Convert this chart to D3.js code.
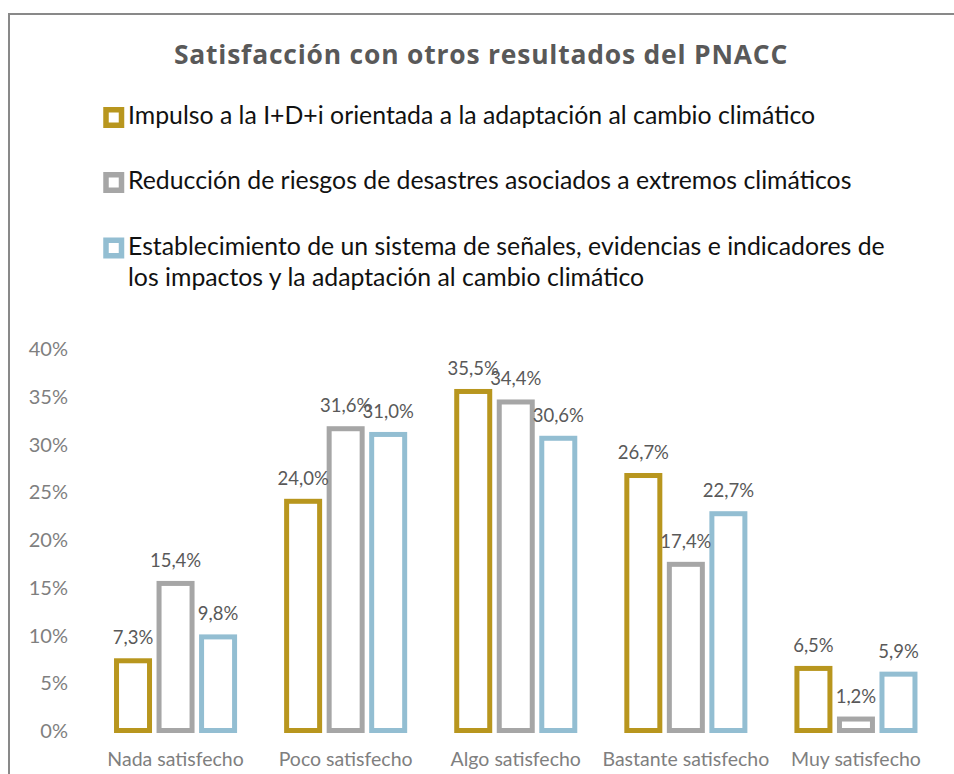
<!DOCTYPE html>
<html>
<head>
<meta charset="utf-8">
<script src="https://cdn.jsdelivr.net/npm/d3@7"></script>
<style>
  html, body { margin: 0; padding: 0; background: #fff; }
  svg { display: block; }
</style>
</head>
<body>
<svg id="chart" width="954" height="774"></svg>
<script>
// Survey answers (share of respondents, %)
const categories = ["Nada satisfecho", "Poco satisfecho", "Algo satisfecho", "Bastante satisfecho", "Muy satisfecho"];
const seriesNames = [
  "Impulso a la I+D+i orientada a la adaptación al cambio climático",
  "Reducción de riesgos de desastres asociados a extremos climáticos",
  "Establecimiento de un sistema de señales, evidencias e indicadores de los impactos y la adaptación al cambio climático"
];
const impulsoValues = [7.3, 24.0, 35.5, 26.7, 6.5];
const reduccionValues = [15.4, 31.6, 34.4, 17.4, 1.2];
const establecimientoValues = [9.8, 31.0, 30.6, 22.7, 5.9];
const yTickValues = [0, 5, 10, 15, 20, 25, 30, 35, 40];
const titleText = "Satisfacción con otros resultados del PNACC";

const seriesValues = [impulsoValues, reduccionValues, establecimientoValues];
const colors = ["#B8961E", "#A6A6A6", "#93BED2"];
// legend entries, with the long one split over two lines
const legendLines = [
  ["Impulso a la I+D+i orientada a la adaptación al cambio climático"],
  ["Reducción de riesgos de desastres asociados a extremos climáticos"],
  ["Establecimiento de un sistema de señales, evidencias e indicadores de",
   "los impactos y la adaptación al cambio climático"]
];

const svg = d3.select("#chart");
const bodyFont = "Lato, 'Open Sans', sans-serif";

// shrink/grow a text selection so its widest line spans the given width
function fitWidth(sel, target) {
  let widest = 0;
  sel.each(function () { widest = Math.max(widest, this.getComputedTextLength()); });
  const fs = parseFloat(sel.attr("font-size"));
  sel.attr("font-size", fs * target / widest);
}

// frame
svg.append("path")
  .attr("d", "M9,774 V14 H954")
  .attr("fill", "none")
  .attr("stroke", "#898989")
  .attr("stroke-width", 2);

// title
const title = svg.append("text")
  .attr("x", 481).attr("y", 64)
  .attr("text-anchor", "middle")
  .attr("font-family", "'Open Sans', sans-serif")
  .attr("font-weight", "bold")
  .attr("font-size", 24)
  .attr("letter-spacing", 0.8)
  .attr("fill", "#595959")
  .text(titleText);
fitWidth(title, 618);

// legend
const legendTop = [117.5, 182.5, 248];
const legend = svg.append("g");
const legendTexts = [];
legendLines.forEach((lines, i) => {
  legend.append("rect")
    .attr("x", 106).attr("y", legendTop[i] - 7.75)
    .attr("width", 15.5).attr("height", 15.5)
    .attr("fill", "#fff")
    .attr("stroke", colors[i])
    .attr("stroke-width", 5.5);
  lines.forEach((ln, j) => {
    legendTexts.push(legend.append("text")
      .attr("x", 128)
      .attr("y", legendTop[i] + 6.8 + j * 31.6)
      .attr("font-family", bodyFont)
      .attr("font-size", 21)
      .attr("fill", "#111")
      .text(ln).node());
  });
});
fitWidth(d3.selectAll(legendTexts), 757);

// scales
const y = d3.scaleLinear().domain([0, 40]).range([730.5, 348.5]);
const x0 = d3.scaleBand().domain(categories).range([90.5, 941]).padding(0);
const groupWidth = x0.bandwidth() * 0.75;
const x1 = d3.scaleBand().domain(d3.range(seriesNames.length)).range([0, groupWidth]).padding(0);
const barWidth = 33;

// y axis labels (no axis line, no gridlines)
const yAxis = d3.axisLeft(y).tickValues(yTickValues).tickSize(0).tickPadding(0)
  .tickFormat(d => d + "%");
svg.append("g")
  .attr("transform", "translate(68,0)")
  .call(yAxis)
  .call(g => g.select(".domain").remove())
  .call(g => g.selectAll("text")
    .attr("font-family", bodyFont)
    .attr("font-size", 20)
    .attr("fill", "#7F7F7F")
    .attr("dy", "0.35em"));

// category labels
const xAxis = d3.axisBottom(x0).tickSize(0).tickPadding(0);
svg.append("g")
  .attr("transform", "translate(0,766)")
  .call(xAxis)
  .call(g => g.select(".domain").remove())
  .call(g => g.selectAll("text")
    .attr("font-family", bodyFont)
    .attr("font-size", 19.5)
    .attr("fill", "#7F7F7F")
    .attr("dy", 0));

// bars
const fmt = v => d3.format(".1f")(v).replace(".", ",") + "%";
const groups = svg.append("g").selectAll("g")
  .data(categories)
  .join("g")
  .attr("transform", c => `translate(${x0(c) + (x0.bandwidth() - groupWidth) / 2},0)`);

groups.each(function (c, ci) {
  const g = d3.select(this);
  const items = seriesValues.map((vals, si) => ({ si, v: vals[ci] }));
  g.selectAll("rect")
    .data(items)
    .join("rect")
    .attr("x", d => x1(d.si) + (x1.bandwidth() - barWidth) / 2)
    .attr("y", d => y(d.v))
    .attr("width", barWidth)
    .attr("height", d => y(0) - y(d.v))
    .attr("fill", "#fff")
    .attr("stroke", d => colors[d.si])
    .attr("stroke-width", 5);
  g.selectAll("text.lbl")
    .data(items)
    .join("text")
    .attr("class", "lbl")
    .attr("x", d => x1(d.si) + x1.bandwidth() / 2)
    .attr("y", d => y(d.v) - 16.5)
    .attr("text-anchor", "middle")
    .attr("font-family", bodyFont)
    .attr("font-size", 18.5)
    .attr("fill", "#595959")
    .text(d => fmt(d.v));
});
</script>
</body>
</html>
